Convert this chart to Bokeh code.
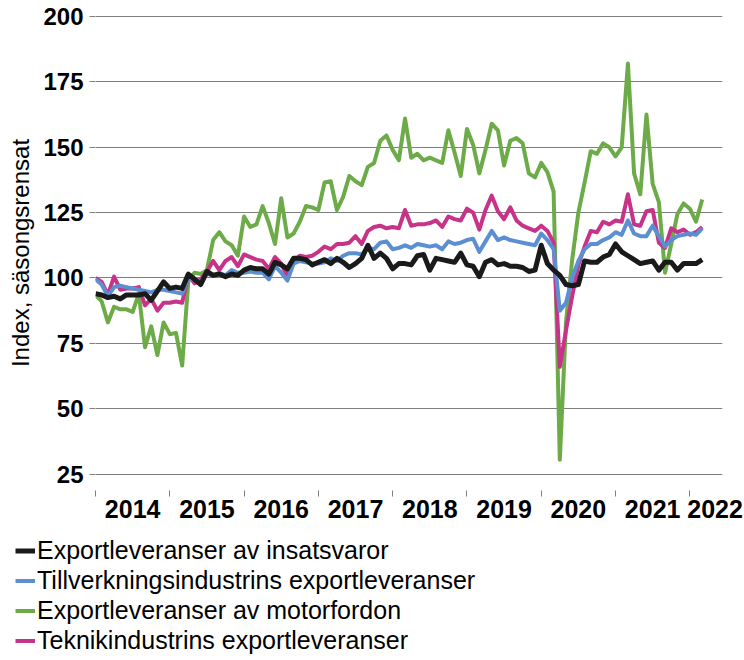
from bokeh.plotting import figure
from bokeh.models import FixedTicker, Legend, LegendItem, Range1d
from bokeh.layouts import column
from bokeh.embed import file_html
from bokeh.resources import INLINE

# ---- data (monthly index, Jan 2014 - Mar 2022) ----
start_year = 2014
year_labels = ["2014", "2015", "2016", "2017", "2018", "2019", "2020", "2021", "2022"]
y_ticks = [25, 50, 75, 100, 125, 150, 175, 200]

insatsvaror = [
    94, 93.5, 92.5, 93, 92, 93.5, 93.5, 93.5, 94, 91.5, 95, 98.5,
    96, 96.5, 96, 101.5, 99.5, 97.5, 102.5, 101, 101.5, 100.5, 101.5, 101,
    103, 104, 103.5, 103.5, 101.5, 106, 105, 103.5, 107.5, 107.5, 107, 105,
    106, 107, 105.5, 107.5, 106, 104, 105.5, 107.5, 112.5, 107.5, 109.5, 107.5,
    103.5, 105.5, 105.5, 105, 108.5, 109, 103, 107.5, 107, 106.5, 106, 109.5,
    105, 104.5, 100.5, 106, 107, 105, 105.5, 104.5, 104.5, 104, 102.5, 103,
    112.5, 105.5, 103, 101, 97.5, 97, 97.5, 106.5, 106, 106, 108, 109,
    113, 110, 108.5, 107, 105.5, 106, 106.5, 103, 106, 106, 103, 105.5,
    105.5, 105.5, 107,
]
tillverkning = [
    99.5, 97.5, 93, 96.5, 97, 96.5, 96, 95.5, 95, 94.5, 95.5, 95.5,
    95, 94.5, 94, 100, 99.5, 98.5, 101.5, 101, 102, 101, 103, 102,
    102, 102.5, 102, 102, 99.5, 104.5, 102, 99, 105.5, 106.5, 106, 105.5,
    105.5, 106, 107.5, 106.5, 108.5, 109.5, 109.5, 109, 111.5, 111, 113.5, 114,
    111, 111.5, 112.5, 111.5, 113, 112.5, 112, 112.5, 111, 114, 113, 113.5,
    114.5, 115, 110, 114, 118, 114.5, 115.5, 114.5, 114, 113.5, 113, 112.5,
    117, 114.5, 111, 87.5, 90.5, 100, 106.5, 111, 113, 113, 114.5, 115.5,
    117.5, 116.5, 122, 117, 116, 116, 120, 116, 112, 114.5, 116, 116.5,
    117, 116.5, 119,
]
motorfordon = [
    93.5, 91, 83, 89, 88, 88, 87, 94, 73.5, 81.5, 70.5, 83,
    78.5, 79, 66.5, 99, 102, 101.5, 103, 114.5, 117.5, 114, 112.5, 108.5,
    123.5, 119.5, 120.5, 127.5, 121, 113, 130.5, 115.5, 117, 121.5, 127.5, 127,
    126, 136.5, 137, 126, 131, 139, 137, 135.5, 142.5, 144, 152.5, 154.5,
    149, 145, 161, 146, 147.5, 145, 146, 145, 144, 156.5, 148, 139,
    157, 151, 140, 149, 159, 156.5, 143, 152.5, 153.5, 151.5, 140, 138.5,
    144, 140.5, 133, 30.5, 83, 107, 125, 136.5, 148.5, 147.5, 151.5, 150,
    146.5, 150, 182, 140, 132, 162.5, 136, 129, 102, 113, 124.5, 128.5,
    126.5, 121.5, 130,
]
teknik = [
    100, 98.5, 93.5, 100.5, 95.5, 96, 96, 96.5, 89.5, 92, 87.5, 90.5,
    90.5, 91, 90.5, 101, 98, 99.5, 102.5, 106.5, 103, 106.5, 108, 104.5,
    109, 108, 107, 106.5, 103.5, 108, 105.5, 100.5, 106.5, 108.5, 108, 108.5,
    110, 112, 111, 113, 113, 113.5, 116, 113, 118, 119.5, 120, 119,
    119.5, 119, 126, 120, 120.5, 120.5, 121, 122, 119.5, 123.5, 122.5, 122,
    126.5, 125, 118.5, 126, 131.5, 125.5, 122.5, 127, 122, 120, 119, 118,
    120, 118, 113.5, 66, 80, 93, 105, 112, 118, 117.5, 121.5, 120.5,
    122, 121.5, 132, 120.5, 120, 125.5, 126, 113.5, 111.5, 119, 117.5, 118.5,
    116.5, 117.5, 119.5,
]

series_names = [
    "Exportleveranser av insatsvaror",
    "Tillverkningsindustrins exportleveranser",
    "Exportleveranser av motorfordon",
    "Teknikindustrins exportleveranser",
]
colors = ["#1a1a1a", "#5b8fd2", "#6cab47", "#c8338a"]
widths = [5, 4, 4, 4]

# month positions as fractional years
x = [start_year + i / 12 for i in range(len(insatsvaror))]

p = figure(
    width=744, height=530,
    x_range=Range1d(2014, 2022.44), y_range=Range1d(18.7, 200.4),
    output_backend="svg", toolbar_location=None,
    min_border_top=15, min_border_bottom=40, min_border_left=95, min_border_right=22,
)
p.outline_line_color = None
p.background_fill_color = "white"
p.frame_align = False

# draw order: green, pink, blue, black on top
r_green = p.line(x, motorfordon, line_color=colors[2], line_width=widths[2], line_join="round")
r_pink = p.line(x, teknik, line_color=colors[3], line_width=widths[3], line_join="round")
r_blue = p.line(x, tillverkning, line_color=colors[1], line_width=widths[1], line_join="round")
r_black = p.line(x, insatsvaror, line_color=colors[0], line_width=widths[0], line_join="round")

# grid
p.xgrid.visible = False
p.ygrid.ticker = FixedTicker(ticks=y_ticks)
p.ygrid.grid_line_color = "#7f7f7f"
p.ygrid.grid_line_width = 1

# y axis
ya = p.yaxis[0]
ya.ticker = FixedTicker(ticks=y_ticks)
ya.axis_line_color = None
ya.major_tick_out = 6
ya.major_tick_in = 0
ya.major_tick_line_color = "#7f7f7f"
ya.minor_tick_line_color = None
ya.major_label_text_font = "Liberation Sans"
ya.major_label_text_font_style = "bold"
ya.major_label_text_font_size = "24px"
ya.major_label_text_color = "black"
ya.major_label_standoff = 6
ya.axis_label = "Index, säsongsrensat"
ya.axis_label_text_font = "Liberation Sans"
ya.axis_label_text_font_style = "normal"
ya.axis_label_text_font_size = "24px"
ya.axis_label_text_color = "black"
ya.axis_label_standoff = 6

# x axis: labels centred in each year, small ticks at year boundaries
label_pos = [2014.5, 2015.5, 2016.5, 2017.5, 2018.5, 2019.5, 2020.5, 2021.5, 2022.34]
boundaries = [2014 + k for k in range(len(year_labels))]
xa = p.xaxis[0]
xa.ticker = FixedTicker(ticks=label_pos, minor_ticks=boundaries)
xa.major_label_overrides = {pos: lab for pos, lab in zip(label_pos, year_labels)}
xa.axis_line_color = None
xa.major_tick_out = 0
xa.major_tick_in = 0
xa.minor_tick_out = 6
xa.minor_tick_in = 0
xa.minor_tick_line_color = "#7f7f7f"
xa.major_label_text_font = "Liberation Sans"
xa.major_label_text_font_style = "bold"
xa.major_label_text_font_size = "25px"
xa.major_label_text_color = "black"
xa.major_label_standoff = 3

# legend lives in a small figure below the chart
leg = figure(
    width=744, height=126, x_range=Range1d(0, 1), y_range=Range1d(0, 1),
    output_backend="svg", toolbar_location=None,
    min_border=0,
)
leg.frame_align = False
leg.axis.visible = False
leg.grid.visible = False
leg.outline_line_color = None
series = [insatsvaror, tillverkning, motorfordon, teknik]
leg_renderers = [
    leg.line(x, s, line_color=c, line_width=w) for s, c, w in zip(series, colors, widths)
]
legend = Legend(
    items=[LegendItem(label=n, renderers=[r]) for n, r in zip(series_names, leg_renderers)],
    location=(15, 1),
    orientation="vertical",
    label_text_font="Liberation Sans",
    label_text_font_size="25px",
    label_text_color="black",
    glyph_width=20, glyph_height=25, label_height=25,
    spacing=1, padding=0, margin=0, label_standoff=2,
    border_line_color=None, background_fill_alpha=0,
)
leg.add_layout(legend, "center")

layout = column(p, leg, spacing=0)
open("out.html", "w").write(file_html(layout, INLINE))
